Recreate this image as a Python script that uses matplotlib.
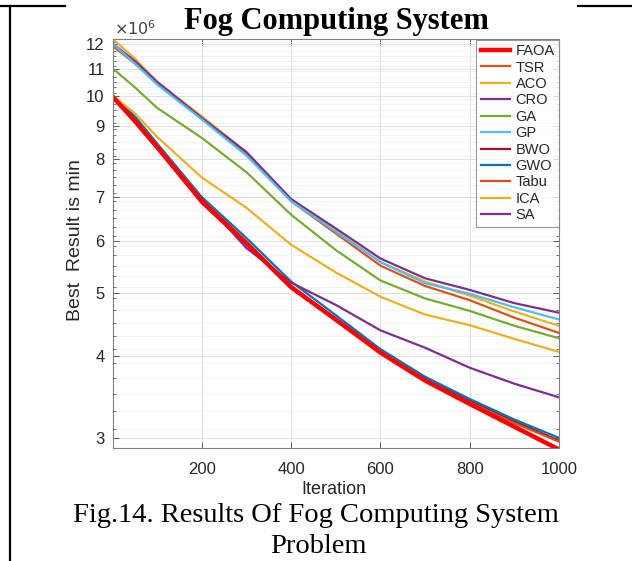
import matplotlib
matplotlib.use("Agg")
import matplotlib.pyplot as plt
from matplotlib.lines import Line2D
from matplotlib.ticker import FixedLocator, NullFormatter

# ---- data (values in units of 1e6) ----
iters = [1, 50, 100, 200, 300, 400, 500, 600, 700, 800, 900, 1000]

FAOA = [9.95, 9.15, 8.35, 6.90, 5.95, 5.10, 4.55, 4.05, 3.67, 3.38, 3.12, 2.88]
TSR  = [11.9, 11.2, 10.45, 9.25, 8.15, 6.90, 6.16, 5.50, 5.12, 4.87, 4.58, 4.34]
ACO  = [12.2, 11.4, 10.5, 9.30, 8.20, 6.95, 6.22, 5.57, 5.20, 4.95, 4.68, 4.45]
CRO  = [12.0, 11.3, 10.5, 9.25, 8.20, 6.95, 6.27, 5.64, 5.26, 5.05, 4.82, 4.66]
GA   = [11.0, 10.3, 9.58, 8.62, 7.64, 6.58, 5.81, 5.22, 4.90, 4.69, 4.45, 4.26]
GP   = [12.0, 11.2, 10.4, 9.20, 8.10, 6.90, 6.20, 5.57, 5.17, 4.98, 4.75, 4.55]
BWO  = [10.0, 9.10, 8.30, 6.85, 5.92, 5.08, 4.53, 4.05, 3.69, 3.42, 3.18, 2.97]
GWO  = [10.0, 9.30, 8.45, 7.00, 6.06, 5.20, 4.62, 4.10, 3.72, 3.44, 3.20, 3.00]
Tabu = [9.90, 9.20, 8.40, 6.95, 5.98, 5.12, 4.56, 4.07, 3.68, 3.40, 3.16, 2.96]
ICA  = [10.0, 9.40, 8.65, 7.50, 6.74, 5.92, 5.37, 4.93, 4.63, 4.46, 4.25, 4.06]
SA   = [9.95, 9.20, 8.35, 6.95, 5.85, 5.18, 4.79, 4.38, 4.12, 3.84, 3.63, 3.46]

names = ["FAOA", "TSR", "ACO", "CRO", "GA", "GP", "BWO", "GWO", "Tabu", "ICA", "SA"]
series = [FAOA, TSR, ACO, CRO, GA, GP, BWO, GWO, Tabu, ICA, SA]
colors = ["#FF0000", "#D95319", "#EDB120", "#7E2F8E", "#77AC30", "#4DBEEE",
          "#A2142F", "#0072BD", "#D95319", "#EDB120", "#7E2F8E"]
widths = [3.2] + [1.6] * 10

yticks = [3, 4, 5, 6, 7, 8, 9, 10, 11, 12]
xticks = [200, 400, 600, 800, 1000]

scale = 1e6
SANS = ["Liberation Sans", "DejaVu Sans"]
SERIF = ["Liberation Serif", "DejaVu Serif"]

fig = plt.figure(figsize=(6.32, 5.61), dpi=100)
W, H = 632, 561
ax = fig.add_axes([113 / W, 1 - 448 / H, 446 / W, 409 / H])

order = list(range(1, len(series))) + [0]
handles = {}
for i in order:
    ln, = ax.plot(iters, [v * scale for v in series[i]], color=colors[i],
                  lw=widths[i], label=names[i], solid_joinstyle="round")
    handles[i] = ln

ax.set_yscale("log")
ax.set_xlim(1, 1000)
ax.set_ylim(2.895e6, 12.21e6)

ax.yaxis.set_major_locator(FixedLocator([t * scale for t in yticks]))
ax.set_yticklabels([str(t) for t in yticks])
minor = [x / 10 * scale for x in range(29, 123, 2)]
ax.yaxis.set_minor_locator(FixedLocator(minor))
ax.yaxis.set_minor_formatter(NullFormatter())
ax.set_xticks(xticks)
ax.set_xticklabels([str(t) for t in xticks])

for lab in ax.get_xticklabels() + ax.get_yticklabels():
    lab.set_fontfamily(SANS)
    lab.set_fontsize(12)
    lab.set_color("#262626")

ax.tick_params(which="both", direction="in", top=True, right=True, color="#404040")
ax.tick_params(which="major", length=4, width=0.6)
ax.tick_params(axis="x", which="major", pad=10)
ax.tick_params(axis="y", which="major", pad=6)
ax.tick_params(which="minor", length=2, width=0.5)

ax.grid(True, which="major", color="#DADADA", lw=0.6)
ax.grid(True, which="minor", axis="y", color="#EDEDED", lw=0.5)
ax.set_axisbelow(True)
for s in ax.spines.values():
    s.set_color("#808080")
    s.set_linewidth(0.8)

ax.set_xlabel("Iteration", fontsize=13, family=SANS, color="#262626")
ax.xaxis.set_label_coords((334 - 113) / 446, (448 - 481) / 409)
ax.set_ylabel("Best  Result is min", fontsize=14, family=SANS, color="#262626")
ax.yaxis.set_label_coords((84 - 113) / 446, (448 - 240) / 409)

# x10^6 multiplier
fig.text(114 / W, 1 - 35 / H, r"$\times10^6$", fontsize=11.5, color="#404040",
         ha="left", va="baseline", family=SANS)

# title
fig.text(336 / W, 1 - 29 / H, "Fog Computing System", fontsize=22,
         fontweight="bold", family=SERIF, ha="center", va="baseline")

# legend
leg = ax.legend([handles[i] for i in range(len(series))], names,
                loc="upper right", bbox_to_anchor=(1.0, 0.998),
                frameon=True, fancybox=False, edgecolor="#808080",
                handlelength=2.05, handletextpad=0.35, labelspacing=0.165,
                borderpad=0.3, borderaxespad=0.0,
                prop={"family": SANS, "size": 10.5})
leg.get_frame().set_linewidth(0.8)
for t in leg.get_texts():
    t.set_color("#262626")

# caption
fig.text(316 / W, 1 - 522 / H, "Fig.14. Results Of Fog Computing System",
         fontsize=20.5, family=SERIF, ha="center", va="baseline")
fig.text(318 / W, 1 - 553 / H, "Problem", fontsize=20.5,
         family=SERIF, ha="center", va="baseline")

# page/table border lines
fig.add_artist(Line2D([0, 65 / W], [1 - 6 / H, 1 - 6 / H], color="black", lw=1.6))
fig.add_artist(Line2D([578 / W, 1], [1 - 6 / H, 1 - 6 / H], color="black", lw=1.6))
fig.add_artist(Line2D([10 / W, 10 / W], [0, 1 - 6 / H], color="black", lw=1.6))

fig.savefig("out.png", dpi=100)
